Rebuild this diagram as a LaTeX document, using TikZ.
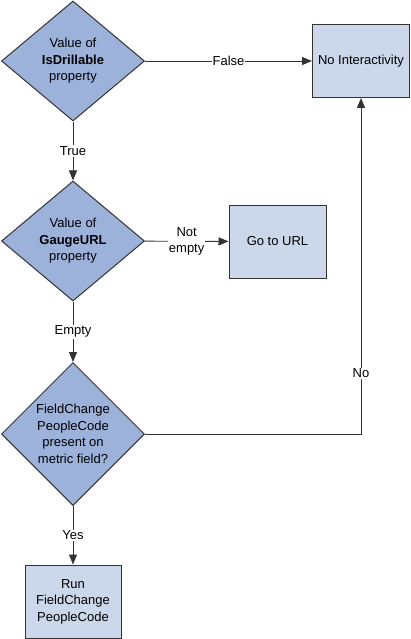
\documentclass[tikz,border=0pt]{standalone}
\usepackage{fontspec}
\setmainfont{Liberation Sans}
\usetikzlibrary{shapes.geometric,arrows.meta,positioning}
\definecolor{dfill}{RGB}{157,178,219}
\definecolor{bfill}{RGB}{203,216,236}
\definecolor{edge}{RGB}{51,51,51}
\begin{document}
\begin{tikzpicture}[x=1pt,y=-1pt,font=\fontsize{13}{16.5}\selectfont,
  dec/.style={diamond,draw=edge,fill=dfill,line width=1pt,align=center,inner sep=0pt,minimum width=143pt,minimum height=120pt},
  act/.style={rectangle,draw=edge,fill=bfill,line width=1pt,align=center,inner sep=2pt,minimum width=97pt,minimum height=73pt},
  con/.style={draw=edge,line width=0.9pt,-{Triangle[length=10pt,width=8pt]}},
  lab/.style={fill=white,inner sep=1pt}]
\useasboundingbox(0,0)rectangle(411,639);
\node[dec](drill)at(73,61){Value of\\\textbf{IsDrillable}\\property};
\node[act](noint)at(361,61){No Interactivity};
\node[dec](gauge)at(73,241){Value of\\\textbf{GaugeURL}\\property};
\node[act](url)at(277.5,241.5){Go to URL};
\node[dec,minimum height=143pt](field)at(73,434){FieldChange\\PeopleCode\\present on\\metric field?};
\node[act,minimum width=96pt](run)at(73,601.5){Run\\FieldChange\\PeopleCode};
\draw[con](drill)--node[lab]{False}(noint);
\draw[con](drill)--node[lab]{True}(gauge);
\draw[con](gauge)--node[lab,align=center,font=\fontsize{13}{15.5}\selectfont]{Not\\empty}(url);
\draw[con](gauge)--node[lab]{Empty}(field);
\draw[con](field)-|node[lab,pos=0.59]{No}(noint);
\draw[con](field)--node[lab]{Yes}(run);
\end{tikzpicture}
\end{document}
